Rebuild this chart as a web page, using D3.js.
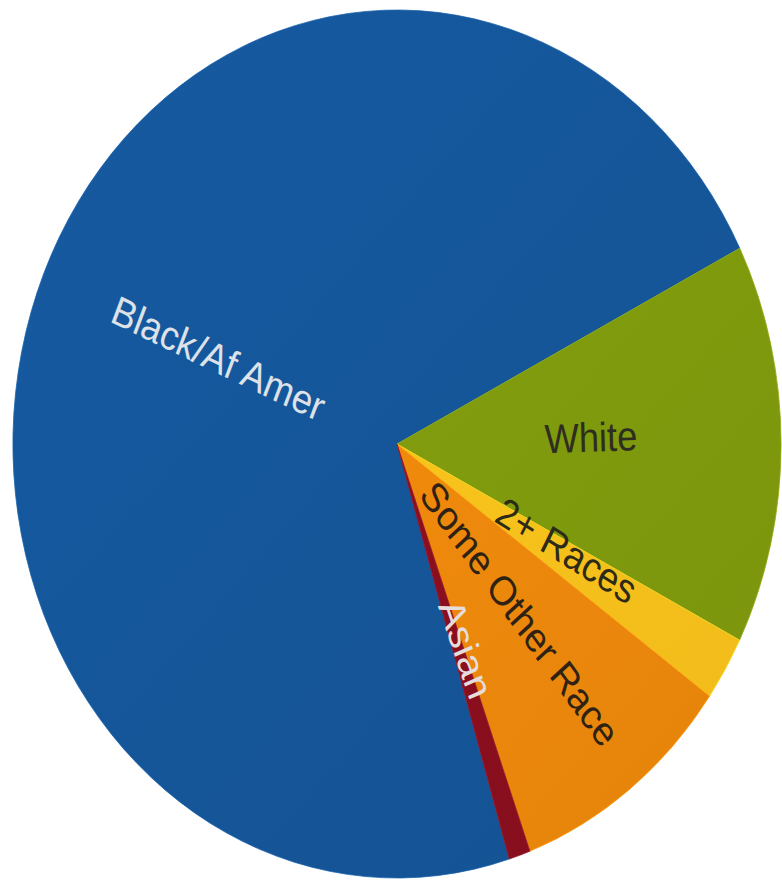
<!DOCTYPE html>
<html>
<head>
<meta charset="utf-8">
<script src="https://cdn.jsdelivr.net/npm/d3@7"></script>
<style>
  html, body { margin: 0; padding: 0; background: #ffffff; }
  svg { display: block; }
</style>
</head>
<body>
<svg id="chart" width="782" height="883"></svg>
<script>
// Population share by race (percent)
const categories = ["Black/Af Amer", "White", "2+ Races", "Some Other Race", "Asian"];
const values = [72.2, 14.9, 2.4, 9.5, 0.9];
const colors = ["#15569a", "#819c0e", "#fcc41b", "#f08a0c", "#8c0f1f"];
const labelColors = ["#dde1e8", "#2e2e20", "#2e2a18", "#2e2214", "#e6dcdc"];

const width = 782, height = 883;
const cx = 397, cy = 444;
const radius = 434;
const squeeze = 0.885;           // horizontal squash of the disc
const startDeg = 163;            // first slice begins here (clockwise from 12 o'clock)

const svg = d3.select("#chart");
const defs = svg.append("defs");

// soft light-to-dark shading for every slice
colors.forEach((c, i) => {
  const g = defs.append("linearGradient")
    .attr("id", "grad" + i)
    .attr("gradientUnits", "userSpaceOnUse")
    .attr("x1", -radius).attr("y1", -radius)
    .attr("x2", radius).attr("y2", radius);
  g.append("stop").attr("offset", "0%").attr("stop-color", d3.color(c).brighter(0.12));
  g.append("stop").attr("offset", "100%").attr("stop-color", d3.color(c).darker(0.14));
});

const data = categories.map((name, i) => ({ name, value: values[i], i }));
const total = d3.sum(values);

const pie = d3.pie()
  .sort(null)
  .value(d => d.value)
  .startAngle(startDeg * Math.PI / 180)
  .endAngle(startDeg * Math.PI / 180 + 2 * Math.PI);

const arcs = pie(data);

const arc = d3.arc().innerRadius(0).outerRadius(radius);

const g = svg.append("g")
  .attr("transform", `translate(${cx},${cy}) scale(${squeeze},1)`);

g.selectAll("path.slice")
  .data(arcs)
  .join("path")
  .attr("class", "slice")
  .attr("d", arc)
  .attr("fill", d => `url(#grad${d.data.i})`)
  .attr("stroke", d => d3.color(colors[d.data.i]).brighter(0.3))
  .attr("stroke-width", 0.8);

// radial labels at about half the radius, nudged slightly counter-clockwise
const labelR = radius * 0.505;
g.selectAll("text.label")
  .data(arcs)
  .join("text")
  .attr("class", "label")
  .attr("transform", d => {
    const share = d.data.value / total;
    const mid = (d.startAngle + d.endAngle) / 2 - 0.05 * (1 - share) + 0.012;
    const x = Math.sin(mid) * labelR;
    const y = -Math.cos(mid) * labelR;
    let rot = mid * 180 / Math.PI - 90;
    while (rot > 180) rot -= 360;
    if (rot > 90) rot -= 180;
    if (rot < -90) rot += 180;
    return `translate(${x},${y}) rotate(${rot})`;
  })
  .attr("text-anchor", "middle")
  .attr("dominant-baseline", "central")
  .attr("font-family", "'Liberation Sans', Arial, sans-serif")
  .attr("font-size", 41)
  .attr("fill", d => labelColors[d.data.i])
  .text(d => d.data.name);
</script>
</body>
</html>
